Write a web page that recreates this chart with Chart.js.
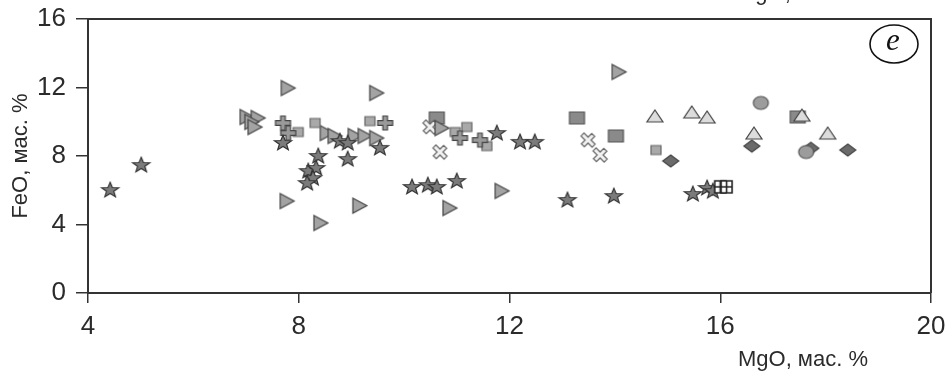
<!DOCTYPE html>
<html>
<head>
<meta charset="utf-8">
<script src="https://cdn.jsdelivr.net/npm/chart.js@4.4.1/dist/chart.umd.min.js"></script>
<style>
  html, body { margin: 0; padding: 0; background: #fff; }
  #wrap { position: relative; width: 946px; height: 374px; }
</style>
</head>
<body>
<div id="wrap"><canvas id="chart" width="946" height="374"></canvas></div>
<script>
const xTicks = [4, 8, 12, 16, 20];
const yTicks = [0, 4, 8, 12, 16];

// MgO (x) and FeO (y), мас. %, one pair of arrays per symbol group
const starMgO = [4.42, 5.01, 7.70, 8.37, 8.18, 8.33, 8.27, 8.16, 8.93, 9.54, 8.78, 8.93, 10.15, 10.45, 10.62, 11.0, 11.76, 12.2, 12.48, 13.1, 13.98, 15.48, 15.75, 15.86];
const starFeO = [6.07, 7.53, 8.82, 8.06, 7.18, 7.36, 6.77, 6.48, 7.88, 8.53, 8.93, 8.82, 6.25, 6.36, 6.25, 6.6, 9.4, 8.88, 8.88, 5.49, 5.72, 5.84, 6.19, 6.01];

const rightTriMgO = [7.80, 9.48, 7.02, 7.23, 7.11, 7.17, 8.54, 8.69, 9.07, 9.26, 9.48, 7.78, 8.42, 9.16, 11.86, 10.87, 14.08, 10.72];
const rightTriFeO = [11.97, 11.68, 10.28, 10.22, 9.99, 9.69, 9.34, 9.17, 9.17, 9.17, 9.05, 5.37, 4.09, 5.10, 5.96, 4.96, 12.91, 9.63];

const smallSqMgO = [8.31, 7.99, 9.35, 10.97, 11.19, 11.57, 14.78];
const smallSqFeO = [9.93, 9.40, 10.04, 9.40, 9.69, 8.58, 8.35];

const bigSqMgO = [10.62, 13.28, 14.02, 17.47];
const bigSqFeO = [10.22, 10.22, 9.17, 10.28];

const plusMgO = [7.70, 7.80, 9.64, 11.06, 11.44];
const plusFeO = [9.93, 9.34, 9.93, 9.05, 8.93];

const crossMgO = [10.49, 10.68, 13.49, 13.72];
const crossFeO = [9.69, 8.23, 8.93, 8.06];

const upTriMgO = [14.76, 15.46, 15.75, 16.64, 17.55, 18.04];
const upTriFeO = [10.34, 10.57, 10.28, 9.34, 10.39, 9.34];

const diamondMgO = [15.06, 16.60, 17.72, 18.42];
const diamondFeO = [7.71, 8.58, 8.45, 8.35];

const circleMgO = [16.77, 17.63];
const circleFeO = [11.10, 8.23];

const gridMgO = [16.0, 16.12];
const gridFeO = [6.2, 6.2];

const FONT = "'Liberation Sans', Arial, sans-serif";
const INK = '#2b2b2b';

function pairs(xs, ys) {
  return xs.map((x, i) => ({ x, y: ys[i] }));
}

// small offscreen canvases used as point styles
function marker(w, h, draw) {
  const c = document.createElement('canvas');
  c.width = w + 4;
  c.height = h + 4;
  const ctx = c.getContext('2d');
  ctx.translate(c.width / 2, c.height / 2);
  ctx.lineJoin = 'miter';
  draw(ctx, w / 2, h / 2);
  return c;
}

function paint(ctx, fill, stroke, lw = 1.2) {
  ctx.fillStyle = fill;
  ctx.fill();
  ctx.lineWidth = lw;
  ctx.strokeStyle = stroke;
  ctx.stroke();
}

const starMark = marker(18, 16, (ctx, hw, hh) => {
  ctx.beginPath();
  for (let i = 0; i < 10; i++) {
    const r = i % 2 ? 0.42 : 1;
    const a = -Math.PI / 2 + i * Math.PI / 5;
    ctx.lineTo(Math.cos(a) * r * hw, Math.sin(a) * r * hh + 1.2);
  }
  ctx.closePath();
  paint(ctx, '#7b7b7b', '#333');
});

const rightTriMark = marker(14, 15, (ctx, hw, hh) => {
  ctx.beginPath();
  ctx.moveTo(-hw, -hh);
  ctx.lineTo(hw, 0);
  ctx.lineTo(-hw, hh);
  ctx.closePath();
  paint(ctx, '#a3a3a3', '#444');
});

const smallSqMark = marker(10, 9, (ctx, hw, hh) => {
  ctx.beginPath();
  ctx.rect(-hw, -hh, hw * 2, hh * 2);
  paint(ctx, '#a9a9a9', '#666');
});

const bigSqMark = marker(15, 12, (ctx, hw, hh) => {
  ctx.beginPath();
  ctx.rect(-hw, -hh, hw * 2, hh * 2);
  paint(ctx, '#8a8a8a', '#555');
});

function plusPath(ctx, hw, hh, t) {
  ctx.beginPath();
  ctx.moveTo(-t, -hh); ctx.lineTo(t, -hh); ctx.lineTo(t, -t);
  ctx.lineTo(hw, -t); ctx.lineTo(hw, t); ctx.lineTo(t, t);
  ctx.lineTo(t, hh); ctx.lineTo(-t, hh); ctx.lineTo(-t, t);
  ctx.lineTo(-hw, t); ctx.lineTo(-hw, -t); ctx.lineTo(-t, -t);
  ctx.closePath();
}

const plusMark = marker(15, 14, (ctx, hw, hh) => {
  plusPath(ctx, hw, hh, 2.3);
  paint(ctx, '#9a9a9a', '#444');
});

const crossMark = marker(15, 14, (ctx, hw, hh) => {
  ctx.rotate(Math.PI / 4);
  plusPath(ctx, hw * 1.05, hh * 1.05, 2.1);
  paint(ctx, '#f2f2f2', '#666');
});

const upTriMark = marker(16, 12, (ctx, hw, hh) => {
  ctx.beginPath();
  ctx.moveTo(0, -hh);
  ctx.lineTo(hw, hh);
  ctx.lineTo(-hw, hh);
  ctx.closePath();
  paint(ctx, '#dcdcdc', '#444');
});

const diamondMark = marker(16, 12, (ctx, hw, hh) => {
  ctx.beginPath();
  ctx.moveTo(0, -hh);
  ctx.lineTo(hw, 0);
  ctx.lineTo(0, hh);
  ctx.lineTo(-hw, 0);
  ctx.closePath();
  paint(ctx, '#6b6b6b', '#444');
});

const circleMark = marker(15, 13, (ctx, hw, hh) => {
  ctx.beginPath();
  ctx.ellipse(0, 0, hw, hh, 0, 0, Math.PI * 2);
  paint(ctx, '#9c9c9c', '#555');
});

const gridMark = marker(11, 12, (ctx, hw, hh) => {
  ctx.beginPath();
  ctx.rect(-hw, -hh, hw * 2, hh * 2);
  ctx.moveTo(0, -hh); ctx.lineTo(0, hh);
  ctx.moveTo(-hw, 0); ctx.lineTo(hw, 0);
  paint(ctx, '#fff', '#222', 1.6);
});

function series(label, xs, ys, style) {
  return { label, data: pairs(xs, ys), pointStyle: style, pointRadius: 8, pointHoverRadius: 8 };
}

// first entry is painted last, i.e. on top
const datasets = [
  series('grid', gridMgO, gridFeO, gridMark),
  series('circle', circleMgO, circleFeO, circleMark),
  series('upTri', upTriMgO, upTriFeO, upTriMark),
  series('star', starMgO, starFeO, starMark),
  series('plus', plusMgO, plusFeO, plusMark),
  series('smallSq', smallSqMgO, smallSqFeO, smallSqMark),
  series('rightTri', rightTriMgO, rightTriFeO, rightTriMark),
  series('cross', crossMgO, crossFeO, crossMark),
  series('diamond', diamondMgO, diamondFeO, diamondMark),
  series('bigSq', bigSqMgO, bigSqFeO, bigSqMark)
];

// closes the frame and adds the axis caption and panel letter
const panelDecor = {
  id: 'panelDecor',
  afterDraw(chart) {
    const { ctx, chartArea: a } = chart;
    ctx.save();
    ctx.strokeStyle = '#333';
    ctx.lineWidth = 2;
    ctx.beginPath();
    ctx.moveTo(a.left, a.top);
    ctx.lineTo(a.right, a.top);
    ctx.lineTo(a.right, a.bottom);
    ctx.stroke();

    ctx.fillStyle = INK;
    ctx.font = `22px ${FONT}`;
    ctx.textAlign = 'right';
    ctx.textBaseline = 'alphabetic';
    ctx.fillText('MgO, мас. %', 868, 366);
    // caption of the panel above, cut by the top edge
    ctx.fillText('MgO, мас. %', 867, 0);

    ctx.strokeStyle = '#111';
    ctx.lineWidth = 1.6;
    ctx.beginPath();
    ctx.ellipse(894, 44, 24, 19, 0, 0, Math.PI * 2);
    ctx.stroke();
    ctx.fillStyle = '#111';
    ctx.font = "italic 31px 'Liberation Serif', serif";
    ctx.textAlign = 'center';
    ctx.textBaseline = 'middle';
    ctx.fillText('e', 893, 42);
    ctx.restore();
  }
};

const tickFont = { family: FONT, size: 26 };

new Chart(document.getElementById('chart'), {
  type: 'scatter',
  data: { datasets },
  options: {
    responsive: false,
    animation: false,
    events: [],
    layout: { padding: { left: 0, right: 15, top: 19, bottom: 0 } },
    plugins: { legend: { display: false }, tooltip: { enabled: false } },
    scales: {
      x: {
        type: 'linear',
        min: 4,
        max: 20,
        afterBuildTicks: s => { s.ticks = xTicks.map(value => ({ value })); },
        afterFit: s => { s.height = 81; s.paddingLeft = 0; s.paddingRight = 0; },
        grid: { drawOnChartArea: false, drawTicks: true, tickLength: 10, color: '#333', lineWidth: 1.5 },
        border: { display: true, color: '#333', width: 2 },
        ticks: { font: tickFont, color: INK, padding: 8, maxRotation: 0 }
      },
      y: {
        type: 'linear',
        min: 0,
        max: 16,
        afterBuildTicks: s => { s.ticks = yTicks.map(value => ({ value })); },
        afterFit: s => { s.width = 88; s.paddingTop = 0; s.paddingBottom = 0; },
        grid: { drawOnChartArea: false, drawTicks: true, tickLength: 12, color: '#333', lineWidth: 1.5 },
        border: { display: true, color: '#333', width: 2 },
        ticks: { font: tickFont, color: INK, padding: 10 },
        title: { display: true, text: 'FeO, мас. %', font: { family: FONT, size: 22 }, color: INK, padding: { top: 8, bottom: 0 } }
      }
    }
  },
  plugins: [panelDecor]
});
</script>
</body>
</html>
